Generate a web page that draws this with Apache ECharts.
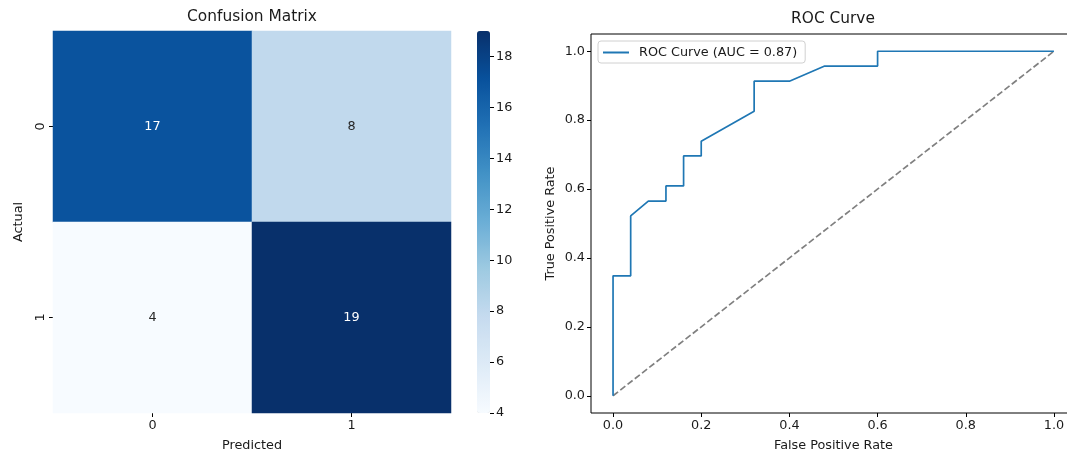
<!DOCTYPE html>
<html>
<head>
<meta charset="utf-8">
<script src="https://cdn.jsdelivr.net/npm/echarts@6/dist/echarts.min.js"></script>
<style>
html,body{margin:0;padding:0;background:#fff;}
#c{width:1067px;height:454px;}
</style>
</head>
<body>
<div id="c"></div>
<script>
// ---- data ----
const cmCategories = ['0', '1'];
const cmActualLabels = ['0', '1'];
// [predictedIndex, actualIndex, count]
const cmValues = [
  [0, 0, 17], [1, 0, 8],
  [0, 1, 4],  [1, 1, 19]
];
const cbTicks = [4, 6, 8, 10, 12, 14, 16, 18];
const cbMin = 4, cbMax = 19;

const rocFpr = [0.00, 0.00, 0.04, 0.04, 0.08, 0.12, 0.12, 0.16, 0.16, 0.20, 0.20, 0.32, 0.32, 0.40, 0.48, 0.60, 0.60, 1.00];
const rocTpr = [0.000, 0.348, 0.348, 0.522, 0.565, 0.565, 0.609, 0.609, 0.696, 0.696, 0.739, 0.826, 0.913, 0.913, 0.957, 0.957, 1.000, 1.000];
const chanceX = [0, 1];
const chanceY = [0, 1];
const rocTicks = [0, 0.2, 0.4, 0.6, 0.8, 1.0];
const rocLabel = 'ROC Curve (AUC = 0.87)';

// ---- chart ----
const FONT = 'DejaVu Sans';
const TXT = '#1a1a1a';
const FS = 12.8;
const blues = ['#f7fbff','#deebf7','#c6dbef','#9ecae1','#6baed6','#4292c6','#2171b5','#08519c','#08306b'];

const heatData = cmValues.map(d => ({
  value: d,
  label: { color: d[2] > (cbMin + cbMax) / 2 ? '#ffffff' : '#262626' }
}));

const tickStyle = { length: 4, lineStyle: { color: '#000', width: 1 } };

const chart = echarts.init(document.getElementById('c'));
chart.setOption({
  animation: false,
  backgroundColor: '#ffffff',
  textStyle: { fontFamily: FONT },
  graphic: [
    { type: 'text', x: 252, y: 9, style: { text: 'Confusion Matrix', font: '15.4px "DejaVu Sans"', fill: TXT, align: 'center' } },
    { type: 'text', x: 833, y: 11, style: { text: 'ROC Curve', font: '15.4px "DejaVu Sans"', fill: TXT, align: 'center' } }
  ],
  grid: [
    { left: 53, top: 31, width: 398, height: 382, outerBoundsMode: 'none', containLabel: false },
    { left: 591, top: 34, width: 485, height: 379, outerBoundsMode: 'none', containLabel: false,
      show: true, borderColor: '#000', borderWidth: 1, backgroundColor: 'transparent' },
    { left: 477, top: 31, width: 13, height: 382, outerBoundsMode: 'none', containLabel: false }
  ],
  xAxis: [
    { gridIndex: 0, type: 'category', data: cmCategories, name: 'Predicted', nameLocation: 'middle', nameGap: 26,
      nameTextStyle: { fontSize: FS, color: TXT, fontFamily: FONT },
      axisLine: { show: false }, axisTick: Object.assign({ show: true, alignWithLabel: true }, tickStyle),
      axisLabel: { fontSize: FS, color: TXT, margin: 6, fontFamily: FONT }, splitLine: { show: false } },
    { gridIndex: 1, type: 'value', min: -0.05, max: 1.05, name: 'False Positive Rate', nameLocation: 'middle', nameGap: 26,
      nameTextStyle: { fontSize: FS, color: TXT, fontFamily: FONT },
      axisLine: { show: false, onZero: false }, splitLine: { show: false },
      axisTick: Object.assign({ customValues: rocTicks }, tickStyle),
      axisLabel: { customValues: rocTicks, formatter: v => v.toFixed(1), fontSize: FS, color: TXT, margin: 6, fontFamily: FONT } },
    { gridIndex: 2, type: 'value', show: false, min: 0, max: 1 }
  ],
  yAxis: [
    { gridIndex: 0, type: 'category', data: cmActualLabels, inverse: true, name: 'Actual', nameLocation: 'middle', nameGap: 28,
      nameTextStyle: { fontSize: FS, color: TXT, fontFamily: FONT },
      axisLine: { show: false }, axisTick: Object.assign({ show: true, alignWithLabel: true }, tickStyle),
      axisLabel: { fontSize: FS, color: TXT, margin: 6, rotate: 90, fontFamily: FONT }, splitLine: { show: false } },
    { gridIndex: 1, type: 'value', min: -0.05, max: 1.05, name: 'True Positive Rate', nameLocation: 'middle', nameGap: 34,
      nameTextStyle: { fontSize: FS, color: TXT, fontFamily: FONT },
      axisLine: { show: false, onZero: false }, splitLine: { show: false },
      axisTick: Object.assign({ customValues: rocTicks }, tickStyle),
      axisLabel: { customValues: rocTicks, formatter: v => v.toFixed(1), fontSize: FS, color: TXT, margin: 6, fontFamily: FONT } },
    { gridIndex: 2, type: 'value', position: 'right', min: cbMin, max: cbMax,
      axisLine: { show: false, onZero: false }, splitLine: { show: false },
      axisTick: Object.assign({ customValues: cbTicks }, tickStyle),
      axisLabel: { customValues: cbTicks, fontSize: FS, color: TXT, margin: 6, fontFamily: FONT } }
  ],
  visualMap: {
    type: 'continuous', min: cbMin, max: cbMax, seriesIndex: 0, calculable: false, realtime: false,
    orient: 'vertical', left: 477, top: 31, itemWidth: 13, itemHeight: 382, padding: 0,
    text: null, showLabel: false, hoverLink: false,
    inRange: { color: blues }
  },
  legend: {
    left: 598, top: 41, data: [{ name: rocLabel, icon: 'rect' }], orient: 'vertical',
    itemWidth: 26, itemHeight: 2, itemGap: 5,
    padding: [5, 8, 4, 5], borderColor: '#d0d0d0', borderWidth: 1, borderRadius: 3, backgroundColor: 'rgba(255,255,255,0.8)',
    textStyle: { fontSize: FS, color: TXT, fontFamily: FONT, padding: [0, 0, 0, 5] }
  },
  series: [
    { type: 'heatmap', xAxisIndex: 0, yAxisIndex: 0, data: heatData,
      label: { show: true, fontSize: FS, fontFamily: FONT },
      itemStyle: { borderWidth: 0 }, emphasis: { disabled: true } },
    { type: 'line', name: rocLabel, xAxisIndex: 1, yAxisIndex: 1, data: rocFpr.map((x, i) => [x, rocTpr[i]]),
      symbol: 'none', showSymbol: false, lineStyle: { color: '#1f77b4', width: 1.7 }, itemStyle: { color: '#1f77b4' },
      z: 3 },
    { type: 'line', name: 'chance', xAxisIndex: 1, yAxisIndex: 1, data: chanceX.map((x, i) => [x, chanceY[i]]),
      symbol: 'none', showSymbol: false, lineStyle: { color: '#808080', width: 1.7, type: [6.4, 2.8] },
      z: 2 }
  ]
});
</script>
</body>
</html>
